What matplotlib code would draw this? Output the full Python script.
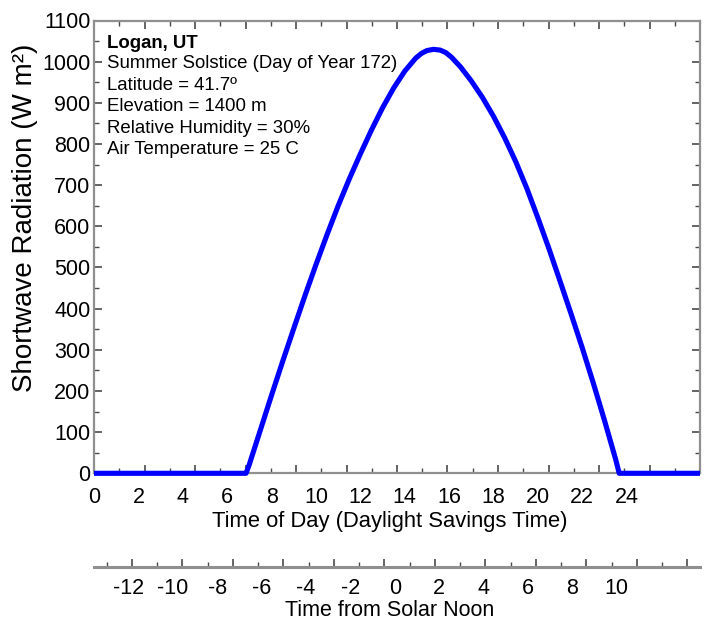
import matplotlib
matplotlib.use("Agg")
import matplotlib.pyplot as plt
from matplotlib.ticker import FixedLocator, NullFormatter

plt.rcParams['font.family'] = ['Liberation Sans', 'DejaVu Sans']

# ---------------- data ----------------
hours = [0.0, 6.85, 7.0, 7.5, 8.0, 8.5, 9.0, 9.5, 10.0, 10.5, 11.0, 11.5,
         12.0, 12.5, 13.0, 13.5, 14.0, 14.5, 14.75, 15.0, 15.3, 15.6, 15.85,
         16.1, 16.5, 17.0, 17.5, 18.0, 18.5, 19.0, 19.5, 20.0, 20.5, 21.0,
         21.5, 22.0, 22.5, 23.0, 23.5, 23.66, 27.3]
radiation = [0, 0, 22, 106, 190, 272, 352, 431, 507, 580, 650, 715,
             776, 834, 888, 936, 977, 1009, 1020, 1027, 1030, 1028, 1022,
             1011, 988, 953, 913, 867, 815, 757, 692, 620, 545, 466,
             386, 304, 218, 128, 34, 0, 0]

time_of_day_labels = list(range(0, 25, 2))
solar_time_labels = list(range(-12, 11, 2))
solar_noon_dst = 13.55          # hours (daylight savings time) of solar noon
y_ticks = list(range(0, 1101, 100))

info_title = "Logan, UT"
info_lines = ["Summer Solstice (Day of Year 172)",
              "Latitude = 41.7º",
              "Elevation = 1400 m",
              "Relative Humidity = 30%",
              "Air Temperature = 25 C"]

# ---------------- figure ----------------
W, H = 707, 620
fig = plt.figure(figsize=(W / 100, H / 100), dpi=100)
fig.patch.set_facecolor('white')

ax_left, ax_right, ax_top, ax_bot = 94, 700, 20.5, 473.3
ax = fig.add_axes([ax_left / W, 1 - ax_bot / H, (ax_right - ax_left) / W,
                   (ax_bot - ax_top) / H])
xmin, xmax = 0.0, 27.3
ax.set_xlim(xmin, xmax)
ax.set_ylim(0, 1100)

spine_col = '#8f8f8f'
tick_col = '#4a4a4a'
for s in ax.spines.values():
    s.set_color(spine_col)
    s.set_linewidth(1.6)

ax.plot(hours, radiation, color='#0000ff', lw=3.7, solid_joinstyle='round',
        solid_capstyle='butt', clip_on=False, zorder=3)

step = (xmax - xmin) / 24
ax.xaxis.set_major_locator(FixedLocator([xmin + k * step for k in range(0, 25, 2)]))
ax.xaxis.set_minor_locator(FixedLocator([xmin + k * step for k in range(1, 24, 2)]))
ax.xaxis.set_major_formatter(NullFormatter())
ax.set_yticks(y_ticks)
ax.yaxis.set_minor_locator(FixedLocator(list(range(50, 1100, 100))))
ax.tick_params(which='both', direction='in', top=True, right=True,
               bottom=True, left=True, labelbottom=False, color=tick_col)
ax.tick_params(which='major', length=6, width=1.2)
ax.tick_params(which='minor', length=3.5, width=1.0)
ax.tick_params(axis='y', labelsize=15.5, pad=2.5)

sec = ax.secondary_xaxis('bottom')
sec.set_xticks(time_of_day_labels)
sec.tick_params(length=0, labelsize=15.5, pad=10)
sec.spines['bottom'].set_visible(False)

ax.set_xlabel("Time of Day (Daylight Savings Time)", fontsize=15.8)
ax.xaxis.label.set_va('center')
ax.xaxis.set_label_coords(390 / W, 1 - 522 / H, transform=fig.transFigure)

ax.set_ylabel("Shortwave Radiation (W m²)", fontsize=20)
ax.yaxis.label.set_va('center')
ax.yaxis.set_label_coords(25 / W, 1 - 218 / H, transform=fig.transFigure)

# info text
ys = [43.3, 64, 85, 106.7, 128.3, 149.3]
fig.text(107 / W, 1 - ys[0] / H, info_title, fontsize=13.4, fontweight='bold',
         va='center', ha='left')
for yy, line in zip(ys[1:], info_lines):
    fig.text(107 / W, 1 - yy / H, line, fontsize=13.4, va='center', ha='left')

# ---------------- lower solar-time axis ----------------
ax2 = fig.add_axes([ax_left / W, 1 - 567 / H, (ax_right - ax_left) / W, 0.0001])
ax2.set_xlim(xmin, xmax)
ax2.set_ylim(0, 1)
ax2.patch.set_visible(False)
for s in ['left', 'right', 'top']:
    ax2.spines[s].set_visible(False)
ax2.spines['bottom'].set_color(spine_col)
ax2.spines['bottom'].set_linewidth(2.2)
ax2.set_yticks([])
ax2.xaxis.set_major_locator(FixedLocator([xmin + (k + 0.5) * step for k in range(1, 24, 2)]))
ax2.xaxis.set_minor_locator(FixedLocator([xmin + (k + 0.5) * step for k in range(0, 24, 2)]))
ax2.xaxis.set_major_formatter(NullFormatter())
ax2.tick_params(which='both', direction='in', color=tick_col, labelbottom=False)
ax2.tick_params(which='major', length=6, width=1.2)
ax2.tick_params(which='minor', length=3.5, width=1.0)

sec2 = ax2.secondary_xaxis('bottom', functions=(lambda x: x - solar_noon_dst,
                                                lambda x: x + solar_noon_dst))
sec2.set_xticks(solar_time_labels)
sec2.tick_params(length=0, labelsize=15.5, pad=8)
sec2.spines['bottom'].set_visible(False)
sec2.set_xticklabels([str(v) for v in solar_time_labels])

fig.text(390 / W, 1 - 611 / H, "Time from Solar Noon", fontsize=15.5,
         ha='center', va='center')

fig.savefig("out.png", dpi=100)
